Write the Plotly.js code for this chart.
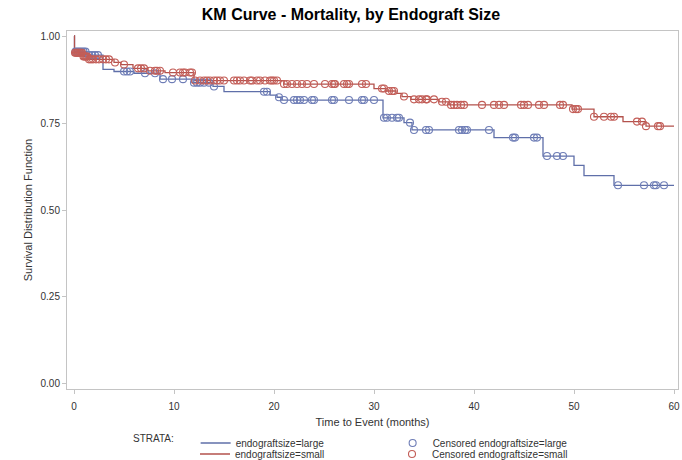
<!DOCTYPE html>
<html><head><meta charset="utf-8">
<script src="https://cdn.plot.ly/plotly-3.0.1.min.js"></script>
<style>html,body{margin:0;padding:0;background:#fff}#chart{width:682px;height:460px}</style>
</head><body><div id="chart"></div>
<script>
// Kaplan-Meier step points (time in months, survival)
const largeTime = [0, 0.05, 1.3, 2.9, 4.0, 6.0, 8.6, 11.8, 13.9, 15.0, 19.6, 20.3, 20.8, 30.9, 33.0, 33.8, 42.0, 46.9, 50.0, 51.0, 54.0, 60.0];
const largeSurv = [1.0, 0.955, 0.945, 0.904, 0.898, 0.893, 0.876, 0.866, 0.855, 0.840, 0.830, 0.824, 0.816, 0.765, 0.751, 0.730, 0.708, 0.655, 0.628, 0.599, 0.571, 0.571];

const smallTime = [0, 0.05, 0.9, 1.4, 4.0, 4.7, 5.9, 7.4, 9.1, 12.0, 21.0, 30.0, 31.2, 32.2, 32.8, 33.7, 36.5, 37.5, 49.8, 52.0, 54.9, 57.2, 60.0];
const smallSurv = [1.0, 0.952, 0.941, 0.933, 0.924, 0.918, 0.907, 0.900, 0.895, 0.872, 0.862, 0.849, 0.842, 0.835, 0.826, 0.818, 0.811, 0.802, 0.790, 0.768, 0.754, 0.741, 0.741];

// Censored observations
const largeCensTime = [0.15,0.35,0.55,0.75,0.95,1.15, 1.5,1.8,2.1,2.4, 5.0,5.3,5.6, 7.1,8.1, 8.9,9.8,10.9, 12.0,12.3,12.6,13.0,13.5, 14.0, 19.0,19.3, 20.5, 21.0,22.0,22.3,22.6,23.0,23.8,24.0,25.8,26.0,27.5,28.8,29.0,30.0, 31.0,31.3,31.8,32.3,32.5, 33.6, 34.0,35.2,35.5,38.5,38.8,39.1,39.3,41.5, 43.9,44.1,46.0,46.3, 47.3,48.3,48.9, 54.4,57.0,58.0,58.2,59.0];
const largeCensSurv = [0.955,0.955,0.955,0.955,0.955,0.955, 0.945,0.945,0.945,0.945, 0.898,0.898,0.898, 0.893,0.893, 0.876,0.876,0.876, 0.866,0.866,0.866,0.866,0.866, 0.855, 0.840,0.840, 0.824, 0.816,0.816,0.816,0.816,0.816,0.816,0.816,0.816,0.816,0.816,0.816,0.816,0.816, 0.765,0.765,0.765,0.765,0.765, 0.751, 0.730,0.730,0.730,0.730,0.730,0.730,0.730,0.730, 0.708,0.708,0.708,0.708, 0.655,0.655,0.655, 0.571,0.571,0.571,0.571,0.571];

const smallCensTime = [0.1,0.2,0.3,0.4,0.5,0.6,0.7,0.8, 0.95,1.05,1.15,1.25,1.35, 1.5,1.7,1.9,2.2,2.5,2.9,3.2,3.5, 4.1, 5.0, 6.4,6.7,7.0, 7.6,8.1,8.3,8.6, 9.9,10.6,10.9,11.1,11.6,11.8, 12.1,12.6,13.0,13.3,13.6,14.0,14.3,14.6,15.0,16.0,16.3,16.6,17.0,17.6,17.8,18.3,18.6,19.1,19.6,19.8,20.0,20.3, 21.0,21.3,21.8,22.3,22.8,23.3,24.0,25.1,25.8,26.0,26.1,27.0,27.3,27.5,28.8,29.2, 30.8,31.0, 31.5,31.8,32.0, 33.0, 34.0,34.5,34.8,35.2,35.3,36.0, 36.8,37.2, 37.7,38.0,38.3,38.7,39.0,40.8,42.0,42.5,43.0,44.7,45.0,45.4,46.5,47.0,48.6,48.9, 49.9,50.2,50.4, 52.0,53.0,53.7,54.0, 56.3,56.8, 57.2,58.4,58.6];
const smallCensSurv = [0.952,0.952,0.952,0.952,0.952,0.952,0.952,0.952, 0.941,0.941,0.941,0.941,0.941, 0.933,0.933,0.933,0.933,0.933,0.933,0.933,0.933, 0.924, 0.918, 0.907,0.907,0.907, 0.900,0.900,0.900,0.900, 0.895,0.895,0.895,0.895,0.895,0.895, 0.872,0.872,0.872,0.872,0.872,0.872,0.872,0.872,0.872,0.872,0.872,0.872,0.872,0.872,0.872,0.872,0.872,0.872,0.872,0.872,0.872,0.872, 0.862,0.862,0.862,0.862,0.862,0.862,0.862,0.862,0.862,0.862,0.862,0.862,0.862,0.862,0.862,0.862, 0.849,0.849, 0.842,0.842,0.842, 0.826, 0.818,0.818,0.818,0.818,0.818,0.818, 0.811,0.811, 0.802,0.802,0.802,0.802,0.802,0.802,0.802,0.802,0.802,0.802,0.802,0.802,0.802,0.802,0.802,0.802, 0.790,0.790,0.790, 0.768,0.768,0.768,0.768, 0.754,0.754, 0.741,0.741,0.741];

const seriesNames = ['endograftsize=large', 'endograftsize=small', 'Censored endograftsize=large', 'Censored endograftsize=small'];
const xTicks = [0, 10, 20, 30, 40, 50, 60];
const yTicks = [0, 0.25, 0.5, 0.75, 1.0];

const FONT = 'Liberation Sans, Arial, sans-serif';
const blueLine = '#5F6FA9', redLine = '#B3524C';
const blueMark = '#6E7DB6', redMark = '#C35E58';

const traces = [
  {x: largeTime, y: largeSurv, type: 'scatter', mode: 'lines', line: {shape: 'hv', color: blueLine, width: 1.3}, name: seriesNames[0], legend: 'legend'},
  {x: smallTime, y: smallSurv, type: 'scatter', mode: 'lines', line: {shape: 'hv', color: redLine, width: 1.3}, name: seriesNames[1], legend: 'legend2'},
  {x: largeCensTime, y: largeCensSurv, type: 'scatter', mode: 'markers', marker: {symbol: 'circle-open', size: 7, color: blueMark, line: {width: 1.1, color: blueMark}}, name: seriesNames[2], legend: 'legend'},
  {x: smallCensTime, y: smallCensSurv, type: 'scatter', mode: 'markers', marker: {symbol: 'circle-open', size: 7, color: redMark, line: {width: 1.1, color: redMark}}, name: seriesNames[3], legend: 'legend2'}
];

const axisCommon = {
  showline: true, mirror: true, linecolor: '#C4C4C4', linewidth: 1,
  ticks: 'outside', ticklen: 4, tickcolor: '#C4C4C4', tickwidth: 1,
  showgrid: false, zeroline: false,
  tickfont: {family: FONT, size: 10, color: '#333333'}
};

const legendFont = {family: FONT, size: 10, color: '#333333'};
const legendBase = {orientation: 'h', traceorder: 'normal', xref: 'container', yref: 'container',
  xanchor: 'left', yanchor: 'top', entrywidth: 152, entrywidthmode: 'pixels',
  font: legendFont, bgcolor: 'rgba(0,0,0,0)', borderwidth: 0};

const layout = {
  width: 682, height: 460,
  margin: {l: 67, r: 4, t: 31, b: 71},
  paper_bgcolor: '#ffffff', plot_bgcolor: '#ffffff',
  font: {family: FONT, size: 10, color: '#333333'},
  title: {text: 'KM Curve - Mortality, by Endograft Size', font: {family: FONT, size: 16, color: '#000000', weight: 'bold'},
          xref: 'container', x: 351/682, xanchor: 'center', yref: 'container', y: 1 - 14/460, yanchor: 'middle'},
  xaxis: Object.assign({}, axisCommon, {range: [-0.7, 60.4], tickvals: xTicks, ticktext: xTicks.map(String), ticklabelstandoff: 4,
          title: {text: 'Time to Event (months)', font: {family: FONT, size: 11, color: '#333333'}, standoff: 11}}),
  yaxis: Object.assign({}, axisCommon, {range: [-0.0144, 1.0144], tickvals: yTicks, tickformat: '.2f',
          title: {text: 'Survival Distribution Function', font: {family: FONT, size: 11, color: '#333333'}, standoff: 5}}),
  showlegend: true,
  legend: Object.assign({}, legendBase, {x: 131/682, y: 1 - 428.5/460,
           title: {text: 'STRATA:\u00a0\u00a0\u00a0\u00a0\u00a0', side: 'left', font: legendFont}}),
  legend2: Object.assign({}, legendBase, {x: 195/682, y: 1 - 439.5/460})
};

Plotly.newPlot('chart', traces, layout, {displayModeBar: false, staticPlot: true});
</script>
</body></html>
